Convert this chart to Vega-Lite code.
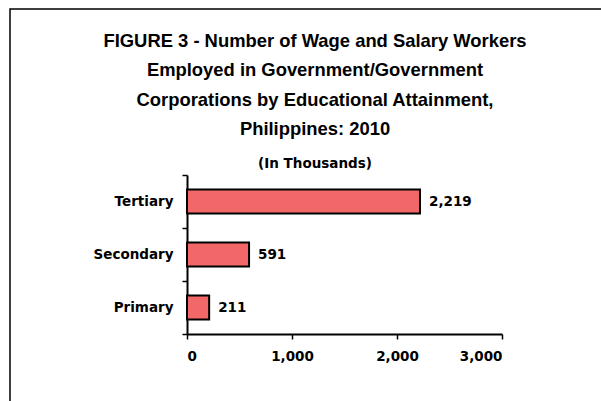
{
  "$schema": "https://vega.github.io/schema/vega-lite/v6.json",
  "width": 600,
  "height": 400,
  "autosize": {"type": "none"},
  "padding": {"left": 10, "top": 9, "right": 0, "bottom": 0},
  "background": "white",
  "config": {
    "view": {"stroke": "black", "strokeWidth": 1.5, "fill": "white"}
  },
  "title": {
    "text": ["FIGURE 3 - Number of  Wage and Salary Workers", "Employed in  Government/Government", "Corporations by Educational Attainment,", "Philippines:  2010"],
    "subtitle": "(In Thousands)",
    "font": "Liberation Sans",
    "fontWeight": "bold",
    "fontSize": 18.4,
    "lineHeight": 29.5,
    "color": "black",
    "subtitleFont": "DejaVu Sans",
    "subtitleFontWeight": "bold",
    "subtitleFontSize": 13.5,
    "subtitleColor": "black",
    "subtitlePadding": 18,
    "anchor": "middle",
    "offset": -168,
    "dx": 5
  },
  "data": {
    "values": [
      {"level": "Tertiary", "workers": 2219},
      {"level": "Secondary", "workers": 591},
      {"level": "Primary", "workers": 211}
    ]
  },
  "encoding": {
    "y": {
      "field": "level",
      "type": "nominal",
      "sort": ["Tertiary", "Secondary", "Primary"],
      "scale": {"range": [166, 325], "paddingInner": 0, "paddingOuter": 0},
      "axis": {
        "title": null,
        "orient": "left",
        "offset": -177,
        "domainColor": "black",
        "domainWidth": 2,
        "tickBand": "extent",
        "tickColor": "black",
        "tickWidth": 1.5,
        "tickSize": 5,
        "labelFont": "DejaVu Sans",
        "labelFontWeight": "bold",
        "labelFontSize": 13.5,
        "labelColor": "black",
        "labelPadding": 9,
        "grid": false
      }
    },
    "x": {
      "field": "workers",
      "type": "quantitative",
      "scale": {"domain": [0, 3000], "range": [177, 492], "nice": false},
      "axis": {
        "title": null,
        "orient": "bottom",
        "offset": -75,
        "values": [0, 1000, 2000, 3000],
        "format": ",.0f",
        "domainColor": "black",
        "domainWidth": 2,
        "tickColor": "black",
        "tickWidth": 1.5,
        "tickSize": 5,
        "labelFont": "DejaVu Sans",
        "labelFontWeight": "bold",
        "labelFontSize": 13.5,
        "labelColor": "black",
        "labelPadding": 10,
        "grid": false
      }
    }
  },
  "layer": [
    {
      "mark": {"type": "bar", "fill": "#f26868", "stroke": "black", "strokeWidth": 2, "height": {"band": 0.45}}
    },
    {
      "mark": {"type": "text", "align": "left", "baseline": "middle", "dx": 9, "font": "DejaVu Sans", "fontWeight": "bold", "fontSize": 13.5, "color": "black"},
      "encoding": {"text": {"field": "workers", "type": "quantitative", "format": ",.0f"}}
    }
  ]
}
